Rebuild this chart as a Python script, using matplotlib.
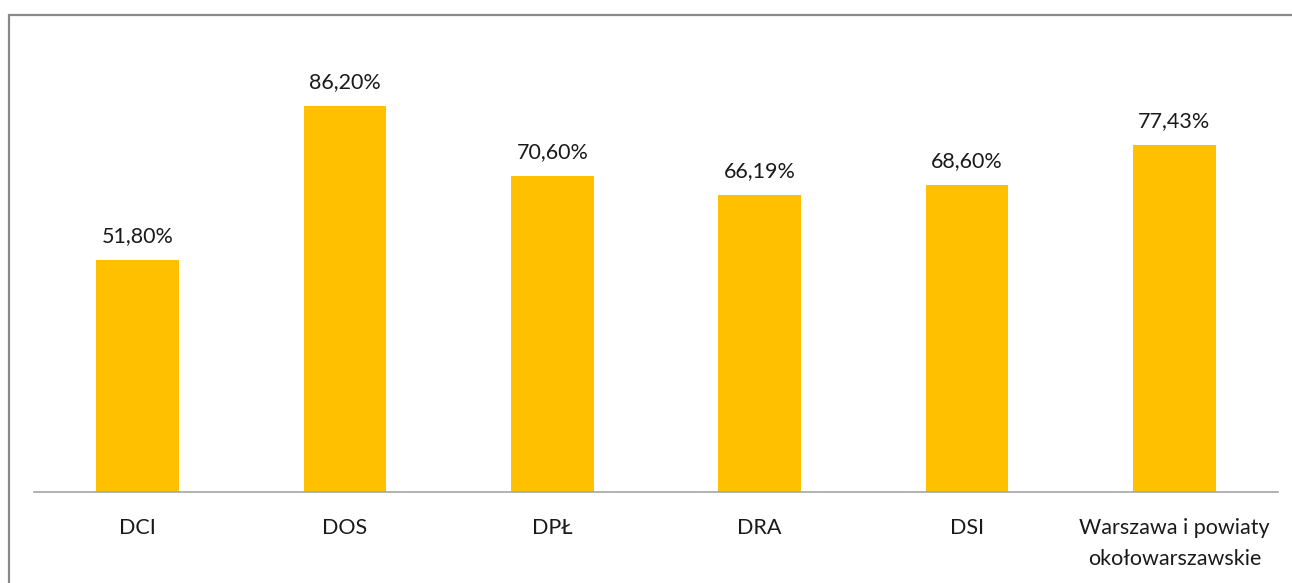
import matplotlib.pyplot as plt
from matplotlib.patches import Rectangle

categories = ["DCI", "DOS", "DPŁ", "DRA", "DSI", "Warszawa i powiaty\nokołowarszawskie"]
values = [51.80, 86.20, 70.60, 66.19, 68.60, 77.43]
value_labels = ["51,80%", "86,20%", "70,60%", "66,19%", "68,60%", "77,43%"]

plt.rcParams["font.family"] = ["Lato", "DejaVu Sans"]

W, H = 1292, 583
fig = plt.figure(figsize=(W / 100, H / 100), dpi=100)
fig.patch.set_facecolor("white")

# frame around the chart area (runs off the right and bottom edges)
fig.add_artist(Rectangle((8.5 / W, -0.05), 1.1, (H - 14.5) / H + 0.05,
                         transform=fig.transFigure, fill=False,
                         edgecolor="#898989", linewidth=1.6))

ax = fig.add_axes([34 / W, (H - 492) / H, 1244 / W, 448 / H])
x = range(len(categories))
ax.bar(x, values, width=0.4, color="#FFC000")
ax.set_xlim(-0.5, len(categories) - 0.5)
ax.set_ylim(0, 100)

for xi, v, lab in zip(x, values, value_labels):
    ax.annotate(lab, (xi, v), xytext=(0, 10), textcoords="offset points",
                ha="center", va="bottom", fontsize=15.5, color="#1a1a1a")

ax.set_xticks(list(x))
ax.set_xticklabels(categories, fontsize=15.5, color="#1a1a1a", linespacing=1.65)
ax.tick_params(axis="x", length=0, pad=19)
ax.set_yticks([])
for side in ["top", "left", "right"]:
    ax.spines[side].set_visible(False)
ax.spines["bottom"].set_color("#a6a6a6")
ax.spines["bottom"].set_linewidth(1.2)

fig.savefig("out.png", dpi=100, facecolor="white")
